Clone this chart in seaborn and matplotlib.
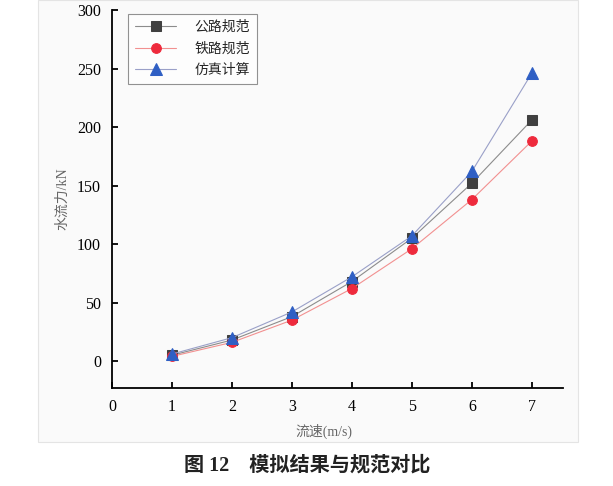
import numpy as np
import pandas as pd
import seaborn as sns
import matplotlib.pyplot as plt
from matplotlib.patches import Rectangle

# flow velocity (m/s) and water force (kN)
speed = [1, 2, 3, 4, 5, 6, 7]
highway = [5, 18, 38, 68, 105, 152, 206]
railway = [4, 16, 35, 62, 96, 138, 188]
simulation = [6, 20, 42, 72, 107, 162, 246]
series_names = ["公路规范", "铁路规范", "仿真计算"]

sns.set_style("ticks")
plt.rcParams['font.family'] = ['Liberation Serif', 'Noto Sans CJK SC', 'DejaVu Sans']

df = pd.DataFrame({"speed": speed * 3,
                   "force": highway + railway + simulation,
                   "method": np.repeat(series_names, len(speed))})

fig = plt.figure(figsize=(6.13, 4.86), dpi=100)
fig.patch.set_facecolor("white")
# light panel behind the chart, like the scanned figure
fig.patches.append(Rectangle((38 / 613, 1 - 442 / 486), 540 / 613, 442 / 486,
                             transform=fig.transFigure, facecolor="#fafafa",
                             edgecolor="#e4e4e4", linewidth=0.8, zorder=-5))

ax = fig.add_axes([112 / 613, 1 - 388 / 486, 451 / 613, 378 / 486])
ax.set_facecolor("none")
ax.set_zorder(2)

styles = {
    "公路规范": dict(color="#8c8c8c", marker="s", mfc="#404040", mec="#404040", ms=6.5),
    "铁路规范": dict(color="#f29090", marker="o", mfc="#ee2a3c", mec="#ee2a3c", ms=7),
    "仿真计算": dict(color="#9aa0c8", marker="^", mfc="#2f5fc4", mec="#2f5fc4", ms=8),
}
for name in series_names:
    st = styles[name]
    sns.lineplot(data=df[df["method"] == name], x="speed", y="force", ax=ax,
                 label=name, color=st["color"], marker=st["marker"],
                 markerfacecolor=st["mfc"], markeredgecolor=st["mec"],
                 markersize=st["ms"], linewidth=0.8)

ax.set_xlim(0, 7.52)
ax.set_ylim(-23, 300)
ax.set_xticks(range(0, 8))
ax.set_yticks(range(0, 301, 50))
sns.despine(ax=ax)
for s in ["left", "bottom"]:
    ax.spines[s].set_linewidth(1.3)
    ax.spines[s].set_color("black")
ax.tick_params(direction="in", length=4, width=1.3, labelsize=11.5, colors="black", pad=8)

ax.set_xlabel("流速(m/s)", fontsize=10, color="#666666")
ax.set_ylabel("水流力/kN", fontsize=10, color="#666666")
ax.xaxis.set_label_coords(0.47, -0.095)
ax.yaxis.set_label_coords(-0.095, 0.5)

leg = ax.legend(loc="upper left", bbox_to_anchor=(0.035, 0.99), borderaxespad=0,
                fontsize=10, frameon=True, fancybox=False, edgecolor="#777777",
                handlelength=3.0, handletextpad=1.3, borderpad=0.5, labelspacing=0.6)
leg.get_frame().set_linewidth(0.8)

fig.text(307 / 613, 1 - 466 / 486, "图 12    模拟结果与规范对比", ha="center", va="center",
         fontsize=14.5, fontweight="bold", color="#222222")

plt.savefig("out.png", dpi=100)
